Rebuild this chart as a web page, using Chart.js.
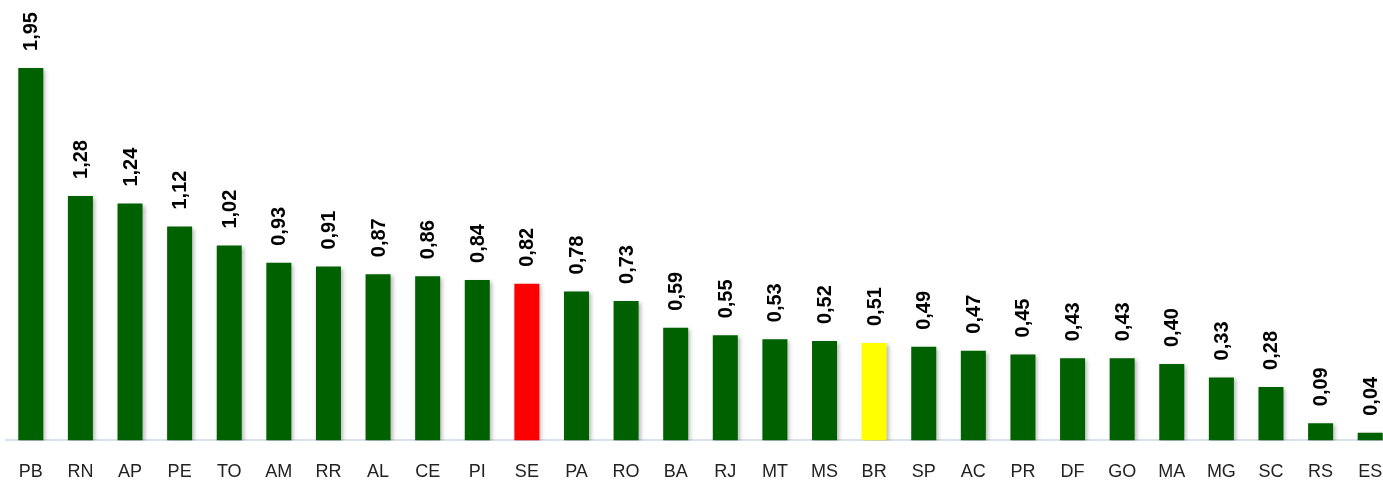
<!DOCTYPE html>
<html>
<head>
<meta charset="utf-8">
<script src="https://cdn.jsdelivr.net/npm/chart.js@4"></script>
<style>
	html, body { margin: 0; padding: 0; background: #fff; overflow: hidden; }
</style>
</head>
<body>
<canvas id="rate-by-state" width="1396" height="483"></canvas>
<script>
let stateList = ["PB", "RN", "AP", "PE", "TO", "AM", "RR", "AL", "CE", "PI", "SE", "PA", "RO", "BA", "RJ", "MT", "MS", "BR", "SP", "AC", "PR", "DF", "GO", "MA", "MG", "SC", "RS", "ES"]
let stateValues = [1.95, 1.28, 1.24, 1.12, 1.02, 0.93, 0.91, 0.87, 0.86, 0.84, 0.82, 0.78, 0.73, 0.59, 0.55, 0.53, 0.52, 0.51, 0.49, 0.47, 0.45, 0.43, 0.43, 0.40, 0.33, 0.28, 0.09, 0.04]

let barColors = stateList.map(function (s) {
	if (s === "SE") return "#ff0000"
	if (s === "BR") return "#ffff00"
	return "#006100"
})

// value labels, rotated, above each bar
let valueLabels = {
	id: 'valueLabels',
	afterDatasetsDraw: function (chart) {
		let ctx = chart.ctx
		let meta = chart.getDatasetMeta(0)
		ctx.save()
		ctx.font = "bold 20px 'Liberation Sans', Arial, sans-serif"
		ctx.fillStyle = "#000"
		ctx.textAlign = "left"
		ctx.textBaseline = "middle"
		meta.data.forEach(function (bar, i) {
			let txt = stateValues[i].toFixed(2).replace('.', ',')
			ctx.save()
			ctx.translate(bar.x + 1, bar.y - 17)
			ctx.rotate(-Math.PI / 2)
			ctx.fillText(txt, 0, 0)
			ctx.restore()
		})
		ctx.restore()
	}
}

// soft shadow behind the bars
let barShadow = {
	id: 'barShadow',
	beforeDatasetsDraw: function (chart) {
		let ctx = chart.ctx
		ctx.save()
		ctx.shadowColor = "rgba(0,0,0,0.28)"
		ctx.shadowBlur = 4
		ctx.shadowOffsetX = 2
		ctx.shadowOffsetY = 2
	},
	afterDatasetsDraw: function (chart) {
		chart.ctx.restore()
	}
}

let rateChart = new Chart(document.getElementById("rate-by-state").getContext('2d'), {
	type: 'bar',
	data: {
		labels: stateList,
		datasets: [
			{
				data: stateValues,
				backgroundColor: barColors,
				barPercentage: .56,
				categoryPercentage: .9
			}
		]
	},
	plugins: [barShadow, valueLabels],
	options: {
		responsive: false,
		animation: false,
		layout: {
			padding: { left: 6, right: 1, top: 0, bottom: 0 }
		},
		scales: {
			y: {
				display: false,
				min: 0,
				max: 2.306
			},
			x: {
				grid: {
					display: false,
					drawTicks: true,
					tickLength: 21
				},
				border: {
					color: "#d9e1ee",
					width: 2
				},
				ticks: {
					color: "#222",
					padding: 0,
					maxRotation: 0,
					autoSkip: false,
					font: {
						family: "'Liberation Sans', Arial, sans-serif",
						size: 18
					}
				}
			}
		},
		plugins: {
			legend: {
				display: false
			},
			tooltip: {
				enabled: false
			}
		}
	}
});
</script>
</body>
</html>
